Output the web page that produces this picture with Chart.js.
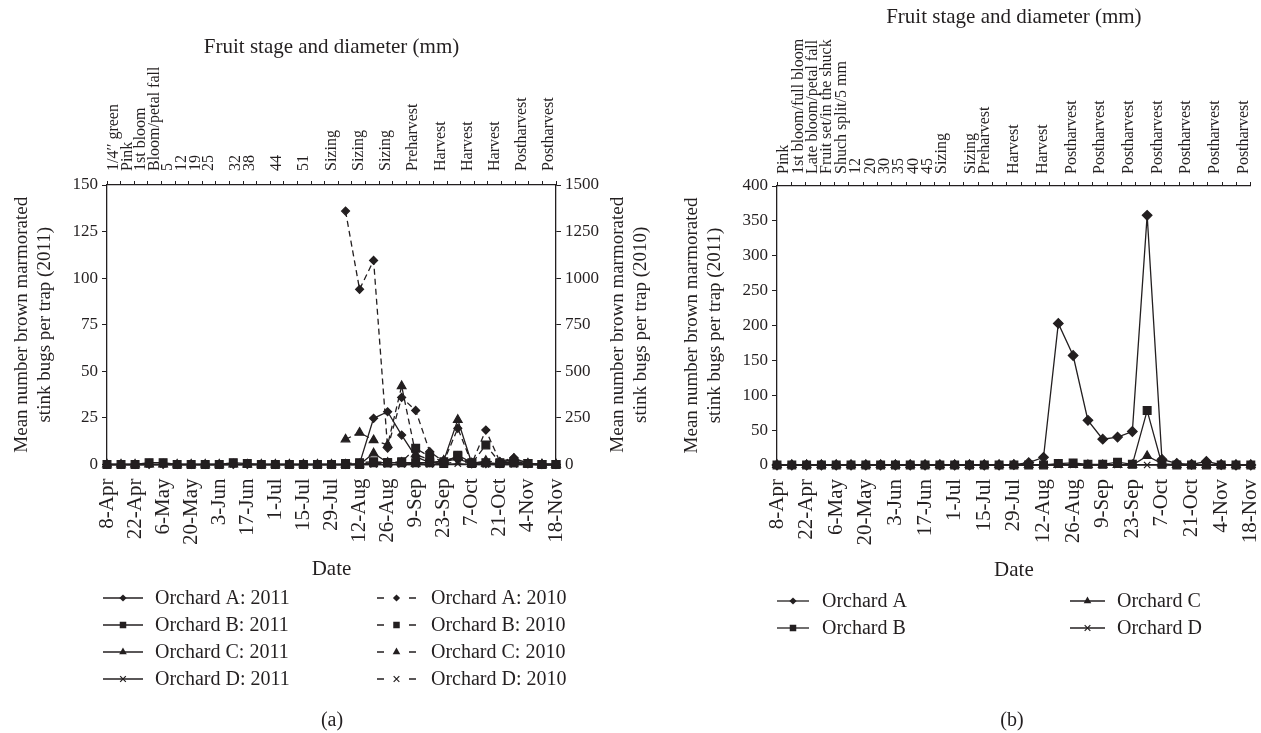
<!DOCTYPE html>
<html>
<head>
<meta charset="utf-8">
<title>Brown marmorated stink bug trap captures</title>
<script src="https://cdn.jsdelivr.net/npm/chart.js@4.4.0/dist/chart.umd.min.js"></script>
<style>
  html, body { margin: 0; padding: 0; background: #ffffff; }
  body { width: 1261px; height: 733px; position: relative; overflow: hidden;
         font-family: "Liberation Serif", "Times New Roman", serif; color: #231f20; }
  #wrapA { position: absolute; left: 0; top: 0; width: 660px; height: 733px; }
  #wrapB { position: absolute; left: 640px; top: 0; width: 642px; height: 733px; }
  .cap { position: absolute; top: 706px; width: 60px; text-align: center; font-size: 20px; line-height: 26px; }
</style>
</head>
<body>
<div id="wrapA"><canvas id="chartA" width="660" height="733"></canvas></div>
<div id="wrapB"><canvas id="chartB" width="642" height="733"></canvas></div>
<div class="cap" style="left:302px">(a)</div>
<div class="cap" style="left:982px">(b)</div>
<script>
// Weekly trap-check dates (every other one is labelled on the axis)
const weekDates = ['8-Apr','15-Apr','22-Apr','29-Apr','6-May','13-May','20-May','27-May',
  '3-Jun','10-Jun','17-Jun','24-Jun','1-Jul','8-Jul','15-Jul','22-Jul','29-Jul','5-Aug',
  '12-Aug','19-Aug','26-Aug','2-Sep','9-Sep','16-Sep','23-Sep','30-Sep','7-Oct','14-Oct',
  '21-Oct','28-Oct','4-Nov','11-Nov','18-Nov'];

// Fruit stage / diameter (mm) for each week, upper axis
const stagesA = ['1/4\u2032\u2032 green','Pink','1st bloom','Bloom/petal fall','5','12','19','25',
  '','32','38','','44','','51','','Sizing','','Sizing','','Sizing','','Preharvest','',
  'Harvest','','Harvest','','Harvest','','Postharvest','','Postharvest'];
const stagesB = ['Pink','1st bloom/full bloom','Late bloom/petal fall','Fruit set/in the shuck',
  'Shuch split/5 mm','12','20','30','35','40','45','Sizing','','Sizing','Preharvest','',
  'Harvest','','Harvest','','Postharvest','','Postharvest','','Postharvest','','Postharvest',
  '','Postharvest','','Postharvest','','Postharvest'];

// Panel (a), 2011 season (left axis)
const orchardA2011 = [0,0,0,0,0,0,0,0,0,0,0,0,0,0,0,0,0,0,0.5,24.8,28.3,15.8,4.2,1,1.5,3,0.5,0.5,0.5,3.5,0.5,0,0];
const orchardB2011 = [0,0,0,1,1,0,0,0,0,1,0.5,0,0,0,0,0,0,0,0,1,1,1,1,1,0.5,5,1,1,0.5,1,0.5,0,0];
const orchardC2011 = [0,0,0,0,0,0,0,0,0,0,0,0,0,0,0,0,0,0,0,6,1,1,0.5,1,2,24,0.5,0.5,0.5,2,0,0,0];
const orchardD2011 = [0,0,0,0,0,0,0,0,0,0,0,0,0,0,0,0,0,0,0,0,0,0,0,0,0,0.5,0,0,0,0,0,0,0];

// Panel (a), 2010 season (right axis)
const orchardA2010 = [null,null,null,null,null,null,null,null,null,null,null,null,null,null,null,null,null,
  1360,940,1095,88,360,290,69,15,194,5,185,15,36,5,0,0];
const orchardB2010 = [null,null,null,null,null,null,null,null,null,null,null,null,null,null,null,null,null,
  5,10,15,10,15,87,42,15,45,5,105,10,10,5,0,0];
const orchardC2010 = [null,null,null,null,null,null,null,null,null,null,null,null,null,null,null,null,null,
  135,171,131,105,421,55,25,20,40,5,20,10,30,5,0,0];
const orchardD2010 = [null,null,null,null,null,null,null,null,null,null,null,null,null,null,null,null,null,
  0,3,5,5,10,5,10,5,15,5,5,3,5,0,0,0];

// Panel (b), 2011 season
const orchardA = [0,0,0,0,0,0,0,0,0,0,0,0,0,0,0,0,0.5,3.3,11,203,157,64,37,40,48,358,8,2.4,1,5,0.5,0,0];
const orchardB = [0,0,0,0,0,0,0,0,0,0,0,0,0,0,0,0,0,0,0,2,3,1,1,4,1,78,1,0,0,0,0,0,0];
const orchardC = [0,0,0,0,0,0,0,0,0,0,0,0,0,0,0,0,0,0,0,0,0,0,0,0,0,13,2,0,0,0,0,0,0];
const orchardD = [0,0,0,0,0,0,0,0,0,0,0,0,0,0,0,0,0,0,0,0,0,0,0,0,0,0,0,0,0,0,0,0,0];

const INK = '#231f20';
const SERIF = '"Liberation Serif", "Times New Roman", serif';
Chart.defaults.font.family = SERIF;
Chart.defaults.color = INK;
Chart.defaults.animation = false;

function series(label, data, style, radius, dashed, axis) {
  return {
    label: label, data: data, yAxisID: axis, xAxisID: 'x',
    borderColor: INK, backgroundColor: INK, borderWidth: 1.3,
    borderDash: dashed ? [6, 4] : [],
    pointStyle: style, pointRadius: radius, pointHoverRadius: radius,
    pointBackgroundColor: INK, pointBorderColor: INK, pointBorderWidth: 1.2,
    tension: 0, spanGaps: false, clip: false, fill: false
  };
}

// marker glyphs used in the legend samples
function drawMarker(ctx, style, x, y, r) {
  ctx.save();
  ctx.fillStyle = INK; ctx.strokeStyle = INK; ctx.lineWidth = 1.2; ctx.setLineDash([]);
  ctx.beginPath();
  if (style === 'rectRot') {
    ctx.moveTo(x, y - r); ctx.lineTo(x + r, y); ctx.lineTo(x, y + r); ctx.lineTo(x - r, y);
    ctx.closePath(); ctx.fill();
  } else if (style === 'rect') {
    const s = r * Math.SQRT1_2; ctx.rect(x - s, y - s, 2 * s, 2 * s); ctx.fill();
  } else if (style === 'triangle') {
    ctx.moveTo(x, y - r); ctx.lineTo(x + r * 0.866, y + r * 0.5); ctx.lineTo(x - r * 0.866, y + r * 0.5);
    ctx.closePath(); ctx.fill();
  } else if (style === 'crossRot') {
    const s = r * Math.SQRT1_2;
    ctx.moveTo(x - s, y - s); ctx.lineTo(x + s, y + s);
    ctx.moveTo(x + s, y - s); ctx.lineTo(x - s, y + s); ctx.stroke();
  }
  ctx.restore();
}

// two-column legend with line + marker samples
const columnLegend = {
  id: 'columnLegend',
  afterDraw(chart, args, opts) {
    const ctx = chart.ctx;
    ctx.save();
    ctx.font = '20px ' + SERIF;
    ctx.textBaseline = 'middle';
    ctx.fillStyle = INK;
    opts.columns.forEach(col => {
      col.sets.forEach((di, row) => {
        const ds = chart.data.datasets[di];
        const y = opts.rows[row];
        const xm = (col.from + col.to) / 2;
        ctx.strokeStyle = INK; ctx.lineWidth = 1.3; ctx.setLineDash([]);
        ctx.beginPath();
        if (ds.borderDash && ds.borderDash.length) {
          ctx.moveTo(col.from, y); ctx.lineTo(col.from + 7, y);
          ctx.moveTo(col.to - 7, y); ctx.lineTo(col.to, y);
        } else {
          ctx.moveTo(col.from, y); ctx.lineTo(col.to, y);
        }
        ctx.stroke();
        drawMarker(ctx, ds.pointStyle, xm, y, opts.markerRadius[ds.pointStyle]);
        ctx.fillText(ds.label, col.text, y + 1);
      });
    });
    ctx.restore();
  }
};

// right-hand axis title, read bottom to top like the left one
const rightTitle = {
  id: 'rightTitle',
  afterDraw(chart, args, opts) {
    if (!opts.lines) return;
    const ctx = chart.ctx;
    const cy = (chart.chartArea.top + chart.chartArea.bottom) / 2;
    ctx.save();
    ctx.font = '19px ' + SERIF;
    ctx.fillStyle = INK;
    ctx.textAlign = 'center';
    ctx.textBaseline = 'middle';
    opts.lines.forEach((t, i) => {
      ctx.save();
      ctx.translate(opts.x[i], cy);
      ctx.rotate(-Math.PI / 2);
      ctx.fillText(t, 0, 0);
      ctx.restore();
    });
    ctx.restore();
  }
};

function bottomAxis(height, titlePad) {
  return {
    type: 'category', labels: weekDates, position: 'bottom', offset: false,
    grid: { display: false },
    border: { display: true, color: INK, width: 1.3 },
    ticks: { autoSkip: false, maxRotation: 90, minRotation: 90, padding: 6, color: INK,
             font: { size: 21 },
             callback: (v, i) => (i % 2 === 0 ? weekDates[i] : '') },
    title: { display: true, text: 'Date', color: INK, font: { size: 21, lineHeight: 1.15 },
             padding: { top: 0, bottom: titlePad } },
    afterFit: s => { s.height = height; }
  };
}

function topAxis(labels, height, titlePad, labelPad) {
  return {
    type: 'category', labels: labels, position: 'top', offset: true,
    grid: { display: true, offset: true, drawOnChartArea: false, drawTicks: true, tickLength: 4,
            color: INK, lineWidth: 1 },
    border: { display: true, color: INK, width: 1.3 },
    ticks: { autoSkip: false, maxRotation: 90, minRotation: 90, padding: labelPad, color: INK,
             labelOffset: 19.2, font: { size: 16, lineHeight: 1.2 } },
    title: { display: true, text: 'Fruit stage and diameter (mm)', color: INK,
             font: { size: 21, lineHeight: 1.15 }, padding: { top: titlePad, bottom: 0 } },
    afterFit: s => { s.height = height; }
  };
}

function valueAxis(pos, max, step, width, title, titlePad) {
  return {
    position: pos, min: 0, max: max,
    grid: { display: true, drawOnChartArea: false, drawTicks: true, tickLength: 5, color: INK, lineWidth: 1 },
    border: { display: true, color: INK, width: 1.3 },
    ticks: { stepSize: step, color: INK, font: { size: 17 }, padding: 4,
             callback: v => String(v) },
    title: { display: !!title, text: title || '', color: INK, font: { size: 19, lineHeight: 1.2 },
             padding: { top: titlePad, bottom: 0 } },
    afterFit: s => { s.width = width; }
  };
}

const markerRadius = { rectRot: 3.6, rect: 4.6, triangle: 4.4, crossRot: 4 };

// Panel (a)
new Chart(document.getElementById('chartA'), {
  type: 'line',
  data: {
    labels: weekDates,
    datasets: [
      series('Orchard A: 2011', orchardA2011, 'rectRot', 4, false, 'y'),
      series('Orchard B: 2011', orchardB2011, 'rect', 5.5, false, 'y'),
      series('Orchard C: 2011', orchardC2011, 'triangle', 5, false, 'y'),
      series('Orchard D: 2011', orchardD2011, 'crossRot', 4.5, false, 'y'),
      series('Orchard A: 2010', orchardA2010, 'rectRot', 4, true, 'y2'),
      series('Orchard B: 2010', orchardB2010, 'rect', 5.5, true, 'y2'),
      series('Orchard C: 2010', orchardC2010, 'triangle', 5, true, 'y2'),
      series('Orchard D: 2010', orchardD2010, 'crossRot', 4.5, true, 'y2')
    ]
  },
  options: {
    responsive: false, maintainAspectRatio: false,
    layout: { padding: { left: 0, right: 20, top: 0, bottom: 148.5 } },
    scales: {
      x: bottomAxis(120, 3),
      x2: topAxis(stagesA, 185, 35, 10),
      y: valueAxis('left', 150, 25, 107,
        ['Mean number brown marmorated', 'stink bugs per trap (2011)'], 11),
      y2: valueAxis('right', 1500, 250, 84, null, 0)
    },
    plugins: {
      legend: { display: false }, tooltip: { enabled: false },
      rightTitle: { lines: ['Mean number brown marmorated', 'stink bugs per trap (2010)'], x: [618, 641] },
      columnLegend: {
        rows: [598, 625, 652, 679],
        markerRadius: markerRadius,
        columns: [ { from: 103, to: 143, text: 155, sets: [0, 1, 2, 3] },
                   { from: 377, to: 416, text: 431, sets: [4, 5, 6, 7] } ]
      }
    }
  },
  plugins: [columnLegend, rightTitle]
});

// Panel (b)
new Chart(document.getElementById('chartB'), {
  type: 'line',
  data: {
    labels: weekDates,
    datasets: [
      series('Orchard A', orchardA, 'rectRot', 4.8, false, 'y'),
      series('Orchard B', orchardB, 'rect', 5.5, false, 'y'),
      series('Orchard C', orchardC, 'triangle', 5, false, 'y'),
      series('Orchard D', orchardD, 'crossRot', 4.5, false, 'y')
    ]
  },
  options: {
    responsive: false, maintainAspectRatio: false,
    layout: { padding: { left: 0, right: 0, top: 0, bottom: 148 } },
    scales: {
      x: bottomAxis(120, 2),
      x2: topAxis(stagesB, 186, 5, 8),
      y: valueAxis('left', 400, 50, 137,
        ['Mean number brown marmorated', 'stink bugs per trap (2011)'], 40.5)
    },
    plugins: {
      legend: { display: false }, tooltip: { enabled: false },
      columnLegend: {
        rows: [601, 628],
        markerRadius: markerRadius,
        columns: [ { from: 137, to: 169, text: 182, sets: [0, 1] },
                   { from: 430, to: 465, text: 477, sets: [2, 3] } ]
      }
    }
  },
  plugins: [columnLegend]
});
</script>
</body>
</html>
